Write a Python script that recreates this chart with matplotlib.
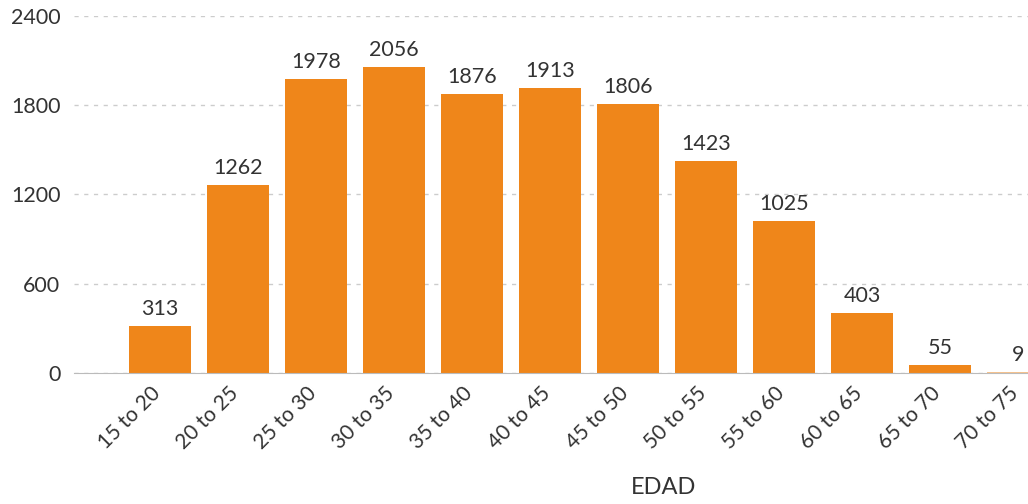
import matplotlib.pyplot as plt
import numpy as np

plt.rcParams['font.family'] = ['Lato', 'DejaVu Sans']

# Datos
categorias = ['15 to 20', '20 to 25', '25 to 30', '30 to 35', '35 to 40', '40 to 45',
              '45 to 50', '50 to 55', '55 to 60', '60 to 65', '65 to 70', '70 to 75']
valores = [313, 1262, 1978, 2056, 1876, 1913, 1806, 1423, 1025, 403, 55, 9]
yticks = [0, 600, 1200, 1800, 2400]

W, H = 1028, 504
fig = plt.figure(figsize=(W / 100, H / 100), dpi=100)

# el grafico original esta recortado a la derecha
x0, x1 = -1.1, 12.5
px_cat = 78.0
left_px = 160 - (0 - x0) * px_cat
width_px = (x1 - x0) * px_cat
ax = fig.add_axes([left_px / W, (H - 373) / H, width_px / W, (373 - 16) / H])

x = np.arange(len(categorias))
colores = ['#ef861a'] * (len(valores) - 1) + ['#f7c28c']
ax.bar(x, valores, width=0.8, color=colores, zorder=3)

for xi, v in zip(x, valores):
    ax.annotate(str(v), (xi, v), xytext=(0, 5), textcoords='offset points',
                ha='center', va='bottom', fontsize=15.5, color='#333333')

ax.set_xlim(x0, x1)
ax.set_ylim(0, 2400)
ax.set_yticks(yticks)
ax.set_yticklabels([str(t) for t in yticks], fontsize=15.5, color='#333333')
# etiquetas giradas un poco a la izquierda del centro de la barra
ax.set_xticks(x - 0.12)
ax.set_xticklabels(categorias, rotation=45, ha='right', rotation_mode='anchor',
                   fontsize=15, color='#333333')
ax.tick_params(axis='both', length=0)
ax.tick_params(axis='x', pad=7)
ax.tick_params(axis='y', pad=10)

ax.grid(axis='y', linestyle=(0, (3, 4)), color='#cccccc', linewidth=1, zorder=0)
for s in ['top', 'right', 'left']:
    ax.spines[s].set_visible(False)
ax.spines['bottom'].set_color('#bbbbbb')
ax.spines['bottom'].set_zorder(4)

fig.text(664 / W, 1 - 487 / H, 'EDAD', ha='center', va='center',
         fontsize=17, color='#333333')

fig.savefig('out.png', dpi=100)
